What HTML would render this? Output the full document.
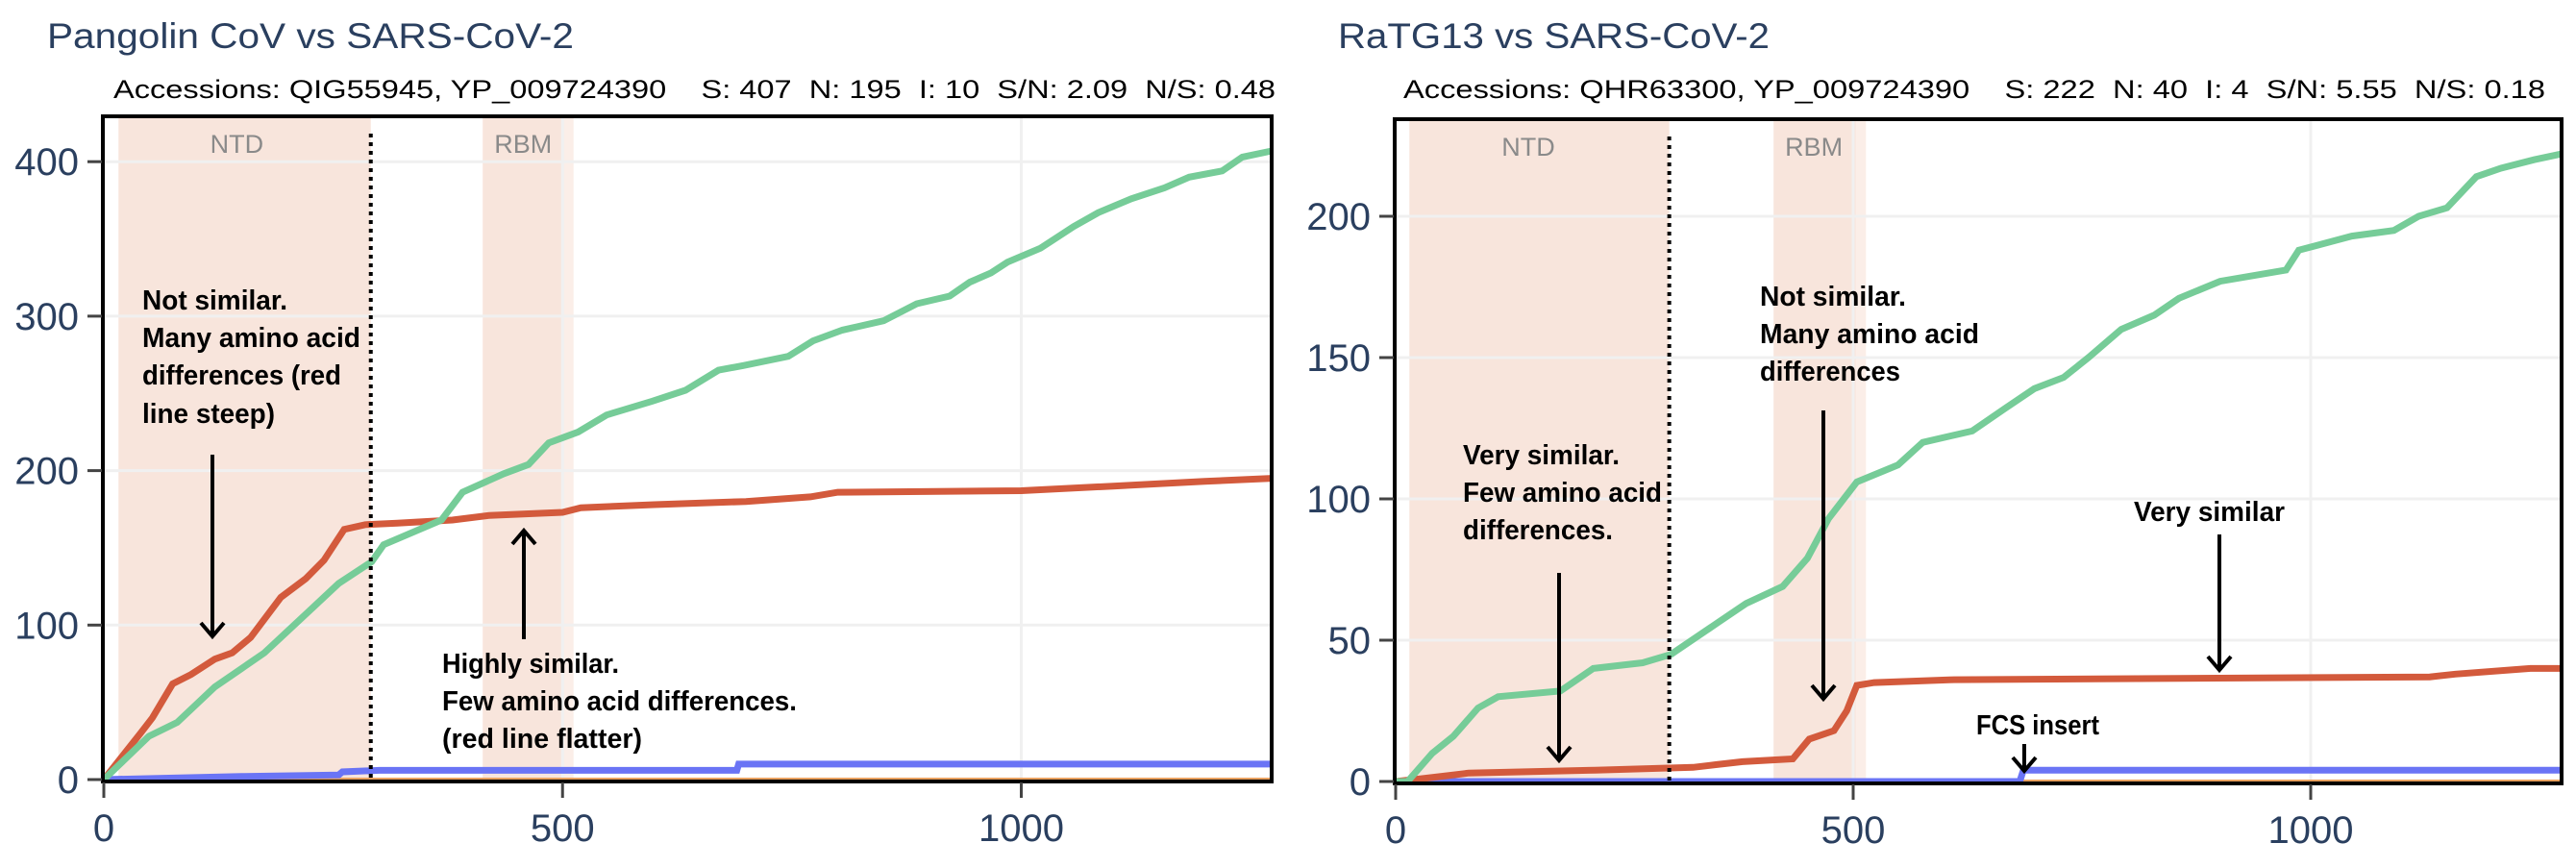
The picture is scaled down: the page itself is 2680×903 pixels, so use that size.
<!DOCTYPE html>
<html><head><meta charset="utf-8">
<style>
html,body{margin:0;padding:0;background:#fff;}
svg{display:block;}
.title{font-family:"Liberation Sans",sans-serif;font-size:37px;fill:#2a3f5f;}
.sub{font-family:"Liberation Sans",sans-serif;font-size:27px;fill:#000;white-space:pre;}
.tick{font-family:"Liberation Sans",sans-serif;font-size:40px;fill:#2a3f5f;}
.reg{font-family:"Liberation Sans",sans-serif;font-size:27px;fill:#8a8a8a;}
.ann{font-family:"Liberation Sans Narrow","Liberation Sans",sans-serif;font-size:29px;font-weight:bold;fill:#000;}
</style></head>
<body>
<svg id="chart" width="2680" height="903" viewBox="0 0 2680 903" xmlns="http://www.w3.org/2000/svg"></svg>
<script>
// ---- data: Pangolin CoV panel ----
const leftSX = [0,49,80,121,175,220,256,292,305,368,391,436,463,485,517,548,598,634,670,697,746,773,805,850,886,922,944,967,985,1021,1057,1084,1120,1156,1183,1219,1241,1273];
const leftSY = [0,28,37,60,82,107,127,141,152,168,186,198,204,218,225,236,245,252,265,268,274,284,291,297,308,313,322,328,335,344,358,367,376,383,390,394,403,407];
const leftNX = [0,20,40,53,75,95,121,140,160,193,220,240,262,285,320,380,420,500,520,600,700,770,800,1000,1100,1200,1273];
const leftNY = [0,15,30,40,62,68,78,82,92,118,130,142,162,165,166,168,171,173,176,178,180,183,186,187,190,193,195];
const leftIX = [0,150,256,260,300,690,692,1273];
const leftIY = [0,2,3,5,6,6,10,10];
const leftYTicks = [0,100,200,300,400];
// ---- data: RaTG13 panel ----
const rightSX = [0,13,40,63,90,112,180,216,270,301,351,383,423,450,473,504,549,576,630,666,698,730,757,793,829,856,901,973,987,1045,1091,1118,1149,1181,1208,1244,1273];
const rightSY = [0,0,10,16,26,30,32,40,42,45,56,63,69,79,93,106,112,120,124,132,139,143,150,160,165,171,177,181,188,193,195,200,203,214,217,220,222];
const rightNX = [0,28,55,80,218,325,351,379,434,452,479,493,504,523,605,1130,1158,1240,1273];
const rightNY = [0,1,2,3,4,5,6,7,8,15,18,25,34,35,36,37,38,40,40];
const rightIX = [0,682,686,1273];
const rightIY = [0,0,4,4];
const rightYTicks = [0,50,100,150,200];
const xTicks = [0,500,1000];

const NS='http://www.w3.org/2000/svg';
const svg=document.getElementById('chart');
function mk(tag,attrs,parent){const e=document.createElementNS(NS,tag);for(const k in attrs)e.setAttribute(k,attrs[k]);(parent||svg).appendChild(e);return e;}

function panel(cfg){
  const g=mk('g',{});
  
  
  const X=v=>cfg.x0+v*cfg.kx, Y=v=>cfg.y0-v*cfg.ky;
  cfg.regions.forEach(r=>{
    const rc=mk('rect',{x:X(r[0]),y:cfg.top,width:X(r[1])-X(r[0]),height:cfg.y0-cfg.top,fill:r[3]||'#f8e5dc'},g);
    
    
  });
  cfg.yt.forEach(t=>{ if(t>0){const l=mk('line',{x1:X(0),x2:cfg.right,y1:Y(t),y2:Y(t),stroke:'#f0f0f0','stroke-width':3},g);
    }});
  xTicks.forEach(t=>{ if(t>0){const l=mk('line',{x1:X(t),x2:X(t),y1:cfg.top,y2:cfg.y0,stroke:'#f0f0f0','stroke-width':3},g);
    }});
  cfg.regLabels.forEach(r=>{const t=mk('text',{x:X(r[1]),y:cfg.top+38,'text-anchor':'middle',class:'reg'},g);t.textContent=r[0];
    });
  const series=[[cfg.oX,cfg.oY,'#e9a15f','orange-line'],[cfg.iX,cfg.iY,'#6a74f5','insertions-line'],[cfg.nX,cfg.nY,'#d35a3c','nonsynonymous-line'],[cfg.sX,cfg.sY,'#76cc98','synonymous-line']];
  series.forEach(s=>{
    const pts=s[0].map((v,i)=>X(v).toFixed(1)+','+Y(s[1][i]).toFixed(1)).join(' ');
    const p=mk('polyline',{points:pts,fill:'none',stroke:s[2],'stroke-width':s[3]=='orange-line'?4:7,'stroke-linejoin':'miter'},g);
    
    
  });
  const d=mk('line',{x1:X(cfg.div),x2:X(cfg.div),y1:cfg.top+18,y2:cfg.y0,stroke:'#000','stroke-width':4,'stroke-dasharray':'4 5'},g);
  
  const f=mk('rect',{x:cfg.x0-1,y:cfg.top,width:cfg.right-cfg.x0+1,height:cfg.y0-cfg.top+2,fill:'none',stroke:'#000','stroke-width':4},g);
  
  cfg.yt.forEach(t=>{
    const l=mk('line',{x1:cfg.x0-17,x2:cfg.x0-2,y1:Y(t),y2:Y(t),stroke:'#444','stroke-width':3},g);
    
    const tx=mk('text',{x:cfg.x0-26,y:Y(t)+14,'text-anchor':'end',class:'tick'},g);tx.textContent=t;
    
  });
  xTicks.forEach(t=>{
    const l=mk('line',{x1:X(t),x2:X(t),y1:cfg.y0+3,y2:cfg.y0+19,stroke:'#444','stroke-width':3},g);
    
    const tx=mk('text',{x:X(t),y:cfg.y0+64,'text-anchor':'middle',class:'tick'},g);tx.textContent=t;
    
  });
  const ti=mk('text',{x:cfg.tx,y:50,class:'title',textLength:cfg.tl,lengthAdjust:'spacingAndGlyphs'},g);ti.textContent=cfg.title;
  
  const su=mk('text',{x:cfg.sx,y:102,class:'sub',textLength:cfg.sl,lengthAdjust:'spacingAndGlyphs'},g);su.textContent=cfg.sub;
  
  cfg.ann.forEach(a=>{
    const t=mk('text',{x:a[1],y:a[2],class:'ann',textLength:a[3]-a[1],lengthAdjust:'spacingAndGlyphs'},g);t.textContent=a[0];
    
  });
  cfg.arrows.forEach(a=>{
    const [x,y1,y2]=a;const dir=y2>y1?1:-1;
    const l=mk('path',{d:`M${x},${y1} L${x},${y2} M${x-12},${y2-dir*14} L${x},${y2} L${x+12},${y2-dir*14}`,fill:'none',stroke:'#000','stroke-width':4},g);
    
  });
}

panel({name:'pangolin-panel',x0:108,kx:0.9545,y0:811,ky:1.607,top:121,right:1323,yt:leftYTicks,
  regions:[[16,291,'ntd'],[413,500,'rbm'],[500,512,'rbm-edge','#fbeee8']],regLabels:[['NTD',145],['RBM',457]],div:291,
  sX:leftSX,sY:leftSY,nX:leftNX,nY:leftNY,iX:leftIX,iY:leftIY,oX:[0,1273],oY:[0,0],
  title:'Pangolin CoV vs SARS-CoV-2',tx:49,tl:548,
  sub:'Accessions: QIG55945, YP_009724390    S: 407  N: 195  I: 10  S/N: 2.09  N/S: 0.48',sx:118,sl:1209,
  ann:[['Not similar.',148,322,299],['Many amino acid',148,361,375],['differences (red',148,400,355],['line steep)',148,440,286],
       ['Highly similar.',460,700,644],['Few amino acid differences.',460,739,829],['(red line flatter)',460,778,668]],
  arrows:[[221,473,662],[545,665,552]]});

panel({name:'ratg13-panel',x0:1452,kx:0.952,y0:813,ky:2.94,top:124,right:2665,yt:rightYTicks,
  regions:[[15,299,'ntd'],[413,503,'rbm'],[503,514,'rbm-edge','#fbeee8']],regLabels:[['NTD',145],['RBM',457]],div:299,
  sX:rightSX,sY:rightSY,nX:rightNX,nY:rightNY,iX:rightIX,iY:rightIY,oX:[0,1273],oY:[0,0],
  title:'RaTG13 vs SARS-CoV-2',tx:1392,tl:449,
  sub:'Accessions: QHR63300, YP_009724390    S: 222  N: 40  I: 4  S/N: 5.55  N/S: 0.18',sx:1460,sl:1188,
  ann:[['Very similar.',1522,483,1685],['Few amino acid',1522,522,1729],['differences.',1522,561,1678],
       ['Not similar.',1831,318,1983],['Many amino acid',1831,357,2059],['differences',1831,396,1977],
       ['Very similar',2220,542,2377],['FCS insert',2056,764,2184]],
  arrows:[[1622,596,791],[1897,427,727],[2309,556,697],[2106,774,802]]});
</script>
</body></html>
